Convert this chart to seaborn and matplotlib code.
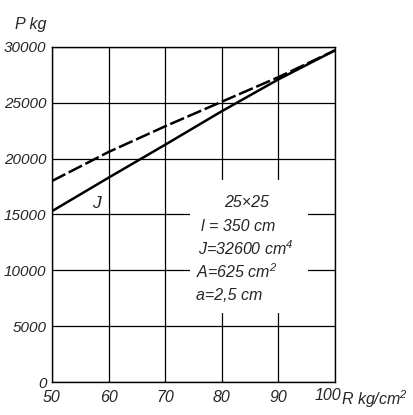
import matplotlib
matplotlib.use("Agg")
import matplotlib.pyplot as plt
from matplotlib.patches import Rectangle
import seaborn as sns
import pandas as pd

# Compressive strength of concrete R (kg/cm^2) vs. column load P (kg)
strength = [50, 60, 70, 80, 90, 100]
load_solid = [15300, 18300, 21250, 24250, 27100, 29700]
load_dashed = [18000, 20600, 22900, 25100, 27300, 29700]
x_ticks = [50, 60, 70, 80, 90, 100]
y_ticks = [0, 5000, 10000, 15000, 20000, 25000, 30000]

sns.set_style("white")
plt.rcParams['font.family'] = ['Liberation Sans', 'DejaVu Sans']
plt.rcParams['font.style'] = 'italic'
plt.rcParams['mathtext.fontset'] = 'custom'
plt.rcParams['mathtext.it'] = 'Liberation Sans:italic'
plt.rcParams['mathtext.rm'] = 'Liberation Sans:italic'
plt.rcParams['mathtext.default'] = 'it'

df = pd.DataFrame({
    "R": strength * 2,
    "P": load_solid + load_dashed,
    "curve": ["J"] * len(strength) + ["J+"] * len(strength),
})

fig = plt.figure(figsize=(4.14, 4.15), dpi=100)
ax = fig.add_axes([52 / 414, 1 - 382 / 415, 283 / 414, 335 / 415])

sns.lineplot(data=df, x="R", y="P", style="curve", color="black",
             dashes={"J": "", "J+": (6, 1.5)}, linewidth=1.8,
             legend=False, ax=ax)

ax.set_xlim(50, 100)
ax.set_ylim(0, 30000)
ax.set_xticks(x_ticks)
ax.set_yticks(y_ticks)
ax.set_xticklabels([str(v) for v in x_ticks[:-1]] + [""],
                   fontstyle="italic")
ax.set_yticklabels([str(v) for v in y_ticks], fontstyle="italic")
ax.grid(True, color="black", linewidth=0.9)
ax.tick_params(axis="x", length=0, labelsize=11.5, pad=6)
ax.tick_params(axis="y", length=0, labelsize=11, pad=4)
for s in ax.spines.values():
    s.set_color("black")
    s.set_linewidth(1.0)
ax.set_xlabel("")
ax.set_ylabel("")

ax.text(98.8, -540, "100", ha="center", va="top", fontsize=11.5,
        fontstyle="italic")
ax.text(101.0, -540, "R kg/cm$^2$", ha="left", va="top", fontsize=11.5,
        fontstyle="italic", clip_on=False)
ax.text(-0.075, 1.045, "P kg", transform=ax.transAxes, ha="center",
        va="bottom", fontsize=11.5, fontstyle="italic")

ax.text(57.9, 16000, "J", ha="center", va="center", fontsize=12.5,
        fontstyle="italic")

# blank panel behind the cross-section data, interrupting the grid
ax.add_patch(Rectangle((74.4, 6200), 20.8, 11900, facecolor="white",
                       edgecolor="none", zorder=1))

ax.text(84.4, 16030, "25×25", ha="center", va="center", fontsize=11.5,
        fontstyle="italic", zorder=3)
info = ["l = 350 cm", "J=32600 cm$^4$", "A=625 cm$^2$", "a=2,5 cm"]
info_x = [76.3, 75.8, 75.4, 75.4]
info_y = [13970, 11910, 9850, 7790]
for text, tx, ty in zip(info, info_x, info_y):
    ax.text(tx, ty, text, ha="left", va="center", fontsize=11.5,
            fontstyle="italic", zorder=3)

fig.savefig("out.png", dpi=100)
